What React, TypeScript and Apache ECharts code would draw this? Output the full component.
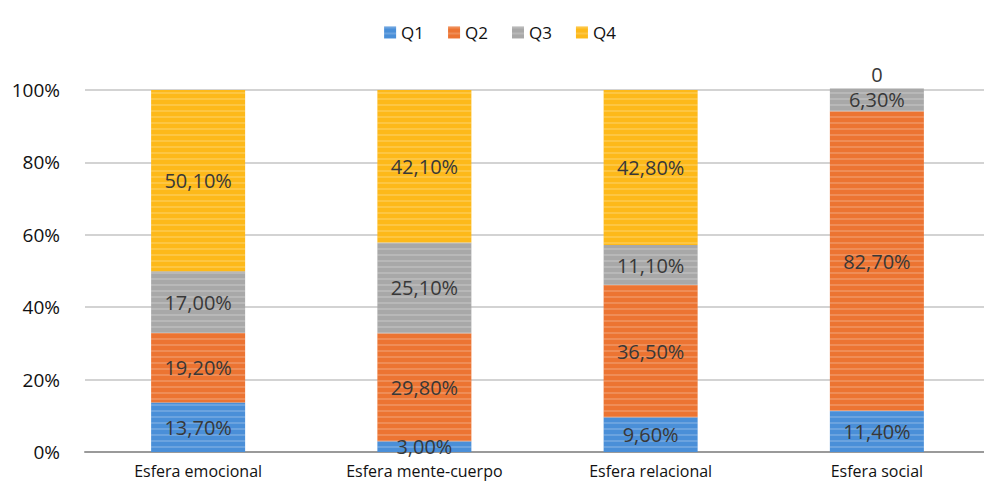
import React, { useEffect, useRef } from "react";
import * as echarts from "echarts";

const categories = ["Esfera emocional", "Esfera mente-cuerpo", "Esfera relacional", "Esfera social"];
const seriesNames = ["Q1", "Q2", "Q3", "Q4"];
const q1 = [13.7, 3.0, 9.6, 11.4];
const q2 = [19.2, 29.8, 36.5, 82.7];
const q3 = [17.0, 25.1, 11.1, 6.3];
const q4 = [50.1, 42.1, 42.8, 0];
const colors = ["#4a8fd8", "#ec7432", "#a8a8a8", "#fdb91a"];
const yTicks = [0, 20, 40, 60, 80, 100];

const FONT = "Open Sans";

export default function App() {
  const ref = useRef<HTMLDivElement>(null);
  useEffect(() => {
    if (!ref.current) return;
    const chart = echarts.init(ref.current, undefined, { renderer: "svg" });
    const data = [q1, q2, q3, q4];
    chart.setOption({
      animation: false,
      textStyle: { fontFamily: FONT },
      legend: {
        top: 11,
        left: "center",
        itemWidth: 12,
        itemHeight: 12,
        itemGap: 24,
        icon: "rect",
        textStyle: { fontSize: 17, color: "#111", fontFamily: FONT },
        data: seriesNames,
      },
      grid: { left: 77, right: 2, top: 82, bottom: 39, containLabel: false },
      xAxis: {
        type: "category",
        data: categories,
        axisLine: { lineStyle: { color: "#9a9a9a", width: 2 } },
        axisTick: { show: false },
        axisLabel: { fontSize: 16, color: "#111", margin: 11, fontFamily: FONT },
      },
      yAxis: {
        type: "value",
        min: yTicks[0],
        max: yTicks[yTicks.length - 1],
        interval: 20,
        axisLine: { show: false },
        axisTick: { show: false },
        axisLabel: { formatter: "{value}%", fontSize: 19, color: "#111", margin: 25, fontFamily: FONT },
        splitLine: { lineStyle: { color: "#c4c4c4", width: 1.5 } },
      },
      series: seriesNames.map((name, i) => ({
        name,
        type: "bar",
        stack: "total",
        barWidth: 94,
        clip: false,
        data: data[i].map((v) =>
          v === 0 ? { value: v, label: { offset: [0, -14] } } : v
        ),
        itemStyle: {
          color: colors[i],
          decal: {
            symbol: "rect",
            symbolSize: 1,
            dashArrayX: [[1, 0]],
            dashArrayY: [2, 4],
            rotation: 0,
            color: "rgba(255,255,255,0.18)",
          },
        },
        label: {
          show: true,
          position: "inside",
          color: "#383838",
          fontSize: 20,
          fontFamily: FONT,
          formatter: (p: any) =>
            p.value === 0 ? "0" : p.value.toFixed(2).replace(".", ",") + "%",
        },
      })),
    });
    return () => chart.dispose();
  }, []);
  return <div ref={ref} style={{ width: 984, height: 483 }} />;
}
